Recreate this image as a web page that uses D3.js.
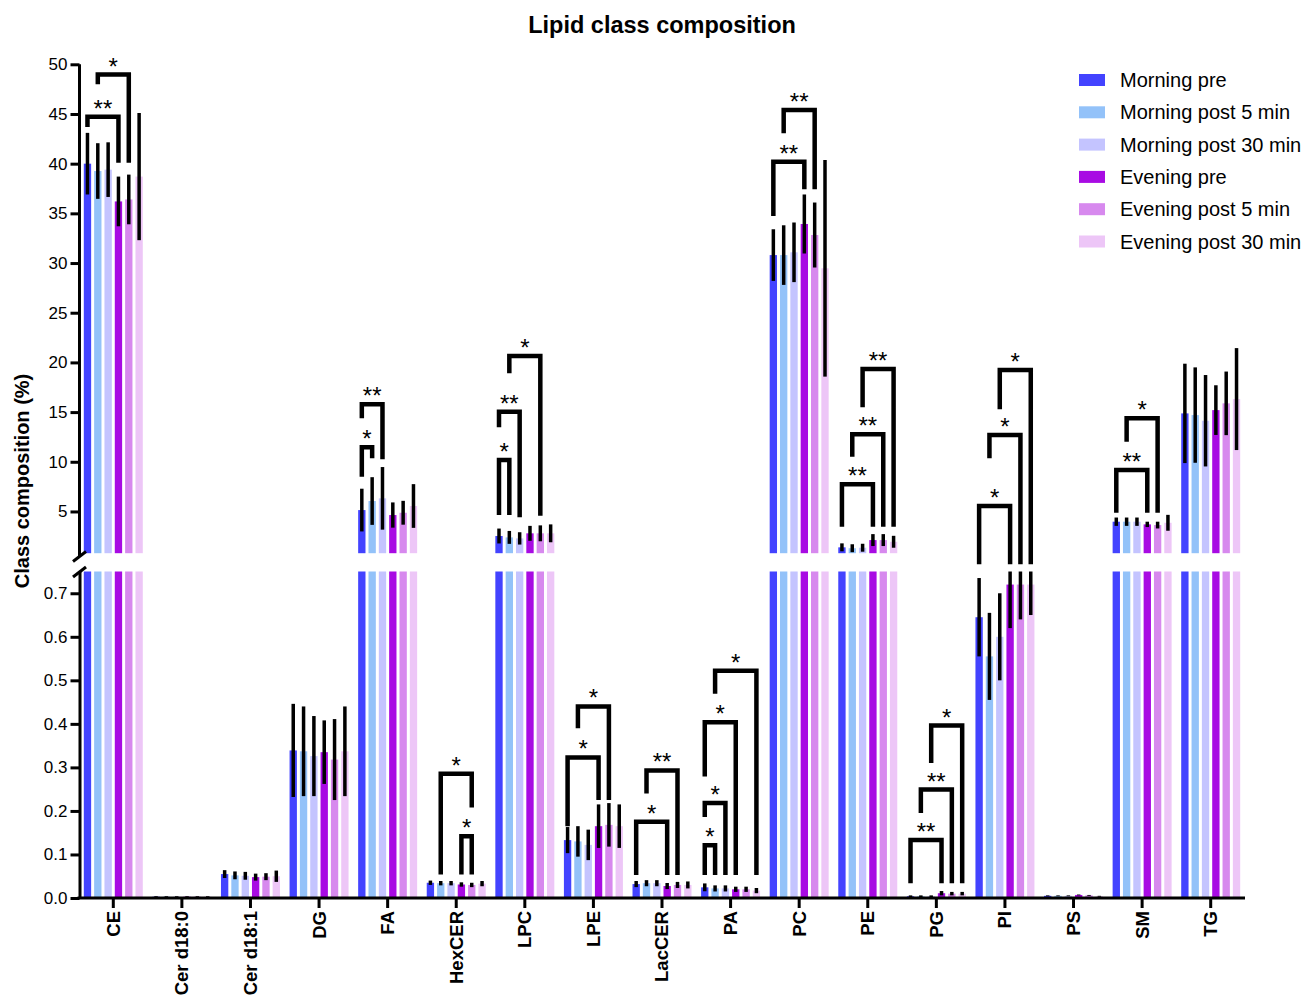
<!DOCTYPE html>
<html><head><meta charset="utf-8">
<script src="https://cdn.jsdelivr.net/npm/d3@7"></script>
<style>body{margin:0;background:#fff} text{font-family:"Liberation Sans",Arial,sans-serif}</style>
</head><body><svg id="chart" width="1305" height="995"></svg>
<script>
const categories = ["CE","Cer d18:0","Cer d18:1","DG","FA","HexCER","LPC","LPE","LacCER","PA","PC","PE","PG","PI","PS","SM","TG"];
const seriesNames = ["Morning pre","Morning post 5 min","Morning post 30 min","Evening pre","Evening post 5 min","Evening post 30 min"];
const seriesColors = ["#4343FF","#93C2F9","#C4C4FF","#A80BE3","#D789EE","#EDC6F7"];

const morningPre    = [40.0, 0.003, 0.055, 0.339, 5.14, 0.035, 2.53, 0.133, 0.032, 0.0245, 30.8, 1.39, 0.004, 0.645, 0.005, 3.97, 14.87];
const morningPost5  = [39.26,0.003, 0.052, 0.337, 6.05, 0.034, 2.39, 0.130, 0.034, 0.022, 30.8, 1.30, 0.004, 0.555, 0.005, 3.97, 14.7];
const morningPost30 = [39.4, 0.003, 0.051, 0.326, 6.32, 0.034, 2.29, 0.122, 0.034, 0.022, 31.08,1.35, 0.004, 0.600, 0.005, 3.97, 14.13];
const eveningPre    = [36.2, 0.003, 0.048, 0.335, 4.64, 0.031, 2.80, 0.165, 0.0275,0.020, 33.93,2.12, 0.011, 0.720, 0.007, 3.70, 15.2];
const eveningPost5  = [36.4, 0.003, 0.049, 0.318, 4.87, 0.030, 2.80, 0.168, 0.030, 0.020, 32.82,2.12, 0.010, 0.720, 0.006, 3.63, 15.88];
const eveningPost30 = [38.7, 0.003, 0.050, 0.337, 5.55, 0.033, 2.80, 0.165, 0.030, 0.017, 29.47,1.95, 0.010, 0.720, 0.004, 3.86, 16.31];

const sdMorningPre    = [3.1, 0.001, 0.009, 0.107, 2.15, 0.005, 0.75, 0.030, 0.007, 0.009, 2.6, 0.4, 0.002, 0.09, 0.001, 0.42, 5.0];
const sdMorningPost5  = [2.8, 0.001, 0.009, 0.103, 2.4,  0.005, 0.65, 0.035, 0.007, 0.007, 3.0, 0.4, 0.002, 0.10, 0.001, 0.42, 4.8];
const sdMorningPost30 = [2.75,0.001, 0.009, 0.092, 3.15, 0.005, 0.62, 0.035, 0.007, 0.007, 3.0, 0.4, 0.002, 0.10, 0.001, 0.42, 4.6];
const sdEveningPre    = [2.5, 0.001, 0.008, 0.073, 1.27, 0.005, 0.75, 0.050, 0.007, 0.006, 2.97,0.6, 0.005, 0.10, 0.001, 0.27, 2.5];
const sdEveningPost5  = [2.5, 0.001, 0.008, 0.093, 1.2,  0.005, 0.80, 0.050, 0.007, 0.006, 3.27,0.6, 0.004, 0.08, 0.001, 0.34, 3.2];
const sdEveningPost30 = [6.4, 0.001, 0.013, 0.103, 2.2,  0.006, 0.90, 0.050, 0.008, 0.006, 10.9,0.6, 0.004, 0.07, 0.001, 0.80, 5.13];

const upperTicks = [5,10,15,20,25,30,35,40,45,50];
const lowerTicks = [0,0.1,0.2,0.3,0.4,0.5,0.6,0.7];

// significance brackets: [category, seriesA, seriesB, level, leftLegEnd, rightLegEnd, label]
const brackets = [
  ["CE",0,3,44.73,43.7,40.1,"**"],["CE",1,4,48.97,47.99,40.1,"*"],
  ["FA",0,1,11.45,8.5,10.35,"*"],["FA",0,2,15.78,14.37,10.25,"**"],
  ["HexCER",1,4,0.2856,0.054,0.208,"*"],["HexCER",3,4,0.142,0.054,0.054,"*"],
  ["LPC",0,1,10.17,4.64,4.64,"*"],["LPC",0,2,15.03,13.47,4.41,"**"],["LPC",1,4,20.64,18.9,4.57,"*"],
  ["LPE",0,3,0.323,0.165,0.225,"*"],["LPE",1,4,0.44,0.39,0.225,"*"],
  ["LacCER",0,3,0.175,0.053,0.053,"*"],["LacCER",1,4,0.293,0.24,0.053,"**"],
  ["PA",0,1,0.121,0.053,0.053,"*"],["PA",0,2,0.218,0.186,0.053,"*"],["PA",0,3,0.404,0.279,0.053,"*"],["PA",1,5,0.522,0.469,0.053,"*"],
  ["PC",0,3,40.2,34.73,37.42,"**"],["PC",1,4,45.4,43.06,37.42,"**"],
  ["PE",0,3,7.73,3.46,3.46,"**"],["PE",1,4,12.76,10.5,3.46,"**"],["PE",2,5,19.33,15.48,3.46,"**"],
  ["PG",0,3,0.133,0.034,0.034,"**"],["PG",1,4,0.249,0.195,0.034,"**"],["PG",2,5,0.396,0.31,0.034,"*"],
  ["PI",0,3,5.55,0.77,0.77,"*"],["PI",1,4,12.7,10.35,0.77,"*"],["PI",2,5,19.23,15.28,0.77,"*"],
  ["SM",0,3,9.17,4.87,4.87,"**"],["SM",1,4,14.37,12.02,4.87,"*"]
];

const allMeans = [morningPre,morningPost5,morningPost30,eveningPre,eveningPost5,eveningPost30];
const allSds = [sdMorningPre,sdMorningPost5,sdMorningPost30,sdEveningPre,sdEveningPost5,sdEveningPost30];

const LOW_MAX = 0.75, HIGH_MIN = 0.8, HIGH_MAX = 50;
const FONT = "Liberation Sans, Arial, sans-serif";
const svg = d3.select("#chart");
const x0 = d3.scaleBand().domain(categories).range([79,1245]).paddingInner(0.14).paddingOuter(0.07);
const x1 = d3.scaleBand().domain(d3.range(6)).range([0,x0.bandwidth()]).paddingInner(0.29).paddingOuter(0);
const y = d3.scaleLinear().domain([0,LOW_MAX,HIGH_MIN,HIGH_MAX]).range([898,571.5,553.2,64.3]);
const cx = (c,s)=> x0(c)+x1(s)+x1.bandwidth()/2;

// bars
const barData = [];
categories.forEach((c,ci)=>{
  allMeans.forEach((arr,si)=>{ barData.push({c, si, v:arr[ci], sd:allSds[si][ci]}); });
});
const gBars = svg.append("g");
barData.forEach(d=>{
  const xx = x0(d.c)+x1(d.si), w = x1.bandwidth();
  if (d.v <= LOW_MAX) {
    gBars.append("rect").attr("x",xx).attr("width",w).attr("y",y(d.v)).attr("height",y(0)-y(d.v)).attr("fill",seriesColors[d.si]);
  } else {
    gBars.append("rect").attr("x",xx).attr("width",w).attr("y",y(LOW_MAX)).attr("height",y(0)-y(LOW_MAX)).attr("fill",seriesColors[d.si]);
    gBars.append("rect").attr("x",xx).attr("width",w).attr("y",y(d.v)).attr("height",y(HIGH_MIN)-y(d.v)).attr("fill",seriesColors[d.si]);
  }
});
// error bars
barData.forEach(d=>{
  let lo = d.v-d.sd, hi = d.v+d.sd;
  if (d.v <= LOW_MAX) { lo = Math.max(lo,0); hi = Math.min(hi,LOW_MAX); }
  else { lo = Math.max(lo,HIGH_MIN); }
  svg.append("line").attr("x1",cx(d.c,d.si)).attr("x2",cx(d.c,d.si)).attr("y1",y(lo)).attr("y2",y(hi))
    .attr("stroke","#000").attr("stroke-width",3.5);
});

// brackets
brackets.forEach(([c,a,b,lev,le,re,lab])=>{
  const xa = cx(c,a), xb = cx(c,b);
  svg.append("path").attr("d",`M${xa},${y(le)}V${y(lev)}H${xb}V${y(re)}`)
    .attr("fill","none").attr("stroke","#000").attr("stroke-width",4.5).attr("stroke-linejoin","miter");
  svg.append("text").attr("x",(xa+xb)/2).attr("y",y(lev)).attr("text-anchor","middle")
    .attr("font-size",24).attr("font-family",FONT).text(lab);
});

// y axes
const yUpper = d3.scaleLinear().domain([HIGH_MIN,HIGH_MAX]).range([553.2,64.3]);
const yLower = d3.scaleLinear().domain([0,LOW_MAX]).range([898,571.5]);
const axU = svg.append("g").attr("transform","translate(79.5,0)")
  .call(d3.axisLeft(yUpper).tickValues(upperTicks).tickSize(9).tickSizeOuter(0).tickPadding(3));
const axL = svg.append("g").attr("transform","translate(79.5,0)")
  .call(d3.axisLeft(yLower).tickValues(lowerTicks).tickFormat(d3.format(".1f")).tickSize(9).tickSizeOuter(0).tickPadding(3));
[axU,axL].forEach(a=>{
  a.selectAll("path").attr("stroke","#000").attr("stroke-width",3);
  a.selectAll("line").attr("stroke","#000").attr("stroke-width",3);
  a.selectAll("text").attr("font-size",17).attr("fill","#000").attr("font-family",FONT);
});
axU.select("path").attr("d","M0,557V64.3");
// break marks
[[556.5],[572]].forEach(([yy])=>{
  svg.append("line").attr("x1",73).attr("x2",86).attr("y1",yy+5).attr("y2",yy-5).attr("stroke","#000").attr("stroke-width",3);
});

// x axis
const axX = svg.append("g").attr("transform","translate(0,898)")
  .call(d3.axisBottom(x0).tickSize(10).tickSizeOuter(0).tickPadding(4));
axX.selectAll("path").attr("stroke","#000").attr("stroke-width",3).attr("d","M77.5,0H1245");
axX.selectAll("line").attr("stroke","#000").attr("stroke-width",3);
axX.selectAll("text").attr("font-size",18.5).attr("font-weight","bold").attr("fill","#000")
  .attr("font-family",FONT)
  .attr("transform","rotate(-90)").attr("text-anchor","end").attr("x",-13).attr("y",0).attr("dy","0.35em");

// title & y label
svg.append("text").attr("x",662).attr("y",33).attr("text-anchor","middle").attr("font-size",23.5).attr("font-weight","bold").attr("font-family",FONT).text("Lipid class composition");
svg.append("text").attr("transform","translate(29,481) rotate(-90)").attr("text-anchor","middle").attr("font-size",20).attr("font-weight","bold").attr("font-family",FONT).text("Class composition (%)");

// legend
const leg = svg.append("g");
seriesNames.forEach((n,i)=>{
  const yy = 80 + i*32.3;
  leg.append("rect").attr("x",1079).attr("y",yy-6).attr("width",26).attr("height",12).attr("fill",seriesColors[i]);
  leg.append("text").attr("x",1120).attr("y",yy).attr("dy","0.35em").attr("font-size",20).attr("font-family",FONT).text(n);
});
</script></body></html>
